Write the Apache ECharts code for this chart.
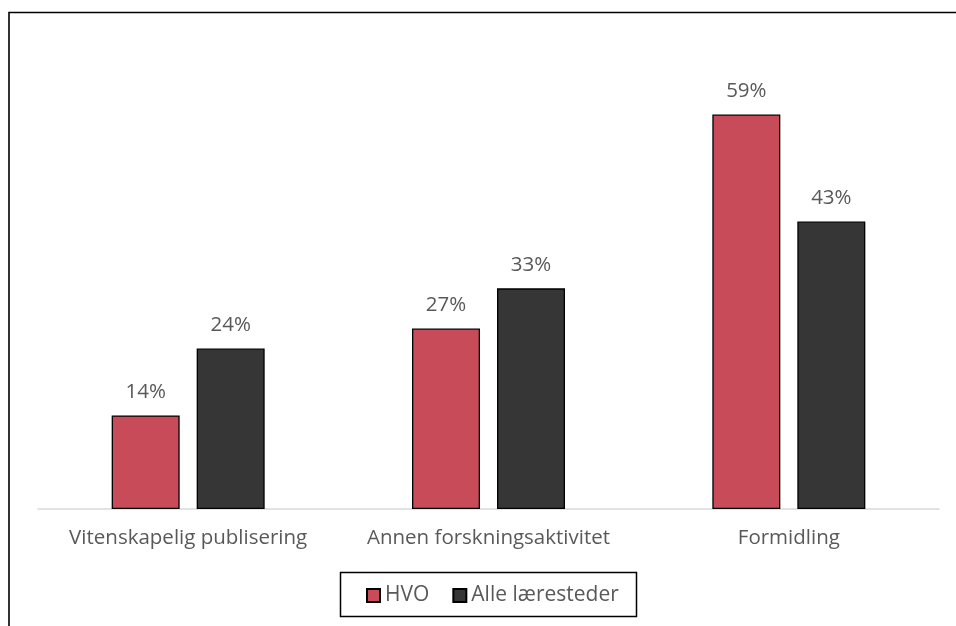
<!DOCTYPE html>
<html>
<head>
<meta charset="utf-8">
<script src="https://cdn.jsdelivr.net/npm/echarts@6/dist/echarts.min.js"></script>
<style>
html,body{margin:0;padding:0;background:#fff;}
#chart{width:956px;height:626px;}
</style>
</head>
<body>
<div id="chart"></div>
<script>
const categories = ['Vitenskapelig publisering', 'Annen forskningsaktivitet', 'Formidling'];
const seriesNames = ['HVO', 'Alle læresteder'];
const hvoValues = [14, 27, 59];
const alleValues = [24, 33, 43];

const FONT = '"Open Sans", sans-serif';
const TXT = '#595959';

const chart = echarts.init(document.getElementById('chart'), null, {renderer: 'canvas'});
const labelCfg = {
  show: true, position: 'top', distance: 13,
  formatter: p => p.value + '%',
  color: TXT, fontFamily: FONT, fontSize: 20.5
};
chart.setOption({
  animation: false,
  backgroundColor: '#fff',
  grid: {left: 38, right: 17, top: 41, bottom: 117, containLabel: false},
  xAxis: {
    type: 'category', data: categories,
    axisLine: {lineStyle: {color: '#d9d9d9', width: 1.5}},
    axisTick: {show: false},
    axisLabel: {interval: 0, hideOverlap: false, color: TXT, fontFamily: FONT, fontSize: 20.5, margin: 19}
  },
  yAxis: {type: 'value', min: 0, max: 70, show: false, splitLine: {show: false}},
  legend: {
    data: seriesNames,
    left: 361, top: 580,
    icon: 'rect', itemWidth: 13, itemHeight: 13, itemGap: 23,
    textStyle: {color: TXT, fontFamily: FONT, fontSize: 21, padding: [0,0,0,0]}
  },
  graphic: [
    {type: 'rect', shape: {x: 9, y: 12.5, width: 1000, height: 700}, style: {fill: 'none', stroke: '#000', lineWidth: 1.6}, silent: true},
    {type: 'rect', shape: {x: 340.5, y: 572.5, width: 296, height: 44}, style: {fill: 'none', stroke: '#000', lineWidth: 1.5}, silent: true}
  ],
  series: [
    {name: seriesNames[0], type: 'bar', data: hvoValues, barWidth: 68, barGap: '25%',
     itemStyle: {color: '#C84B5A', borderColor: '#000', borderWidth: 1.3}, label: labelCfg},
    {name: seriesNames[1], type: 'bar', data: alleValues, barWidth: 68,
     itemStyle: {color: '#363636', borderColor: '#000', borderWidth: 1.3}, label: labelCfg}
  ]
});
</script>
</body>
</html>
